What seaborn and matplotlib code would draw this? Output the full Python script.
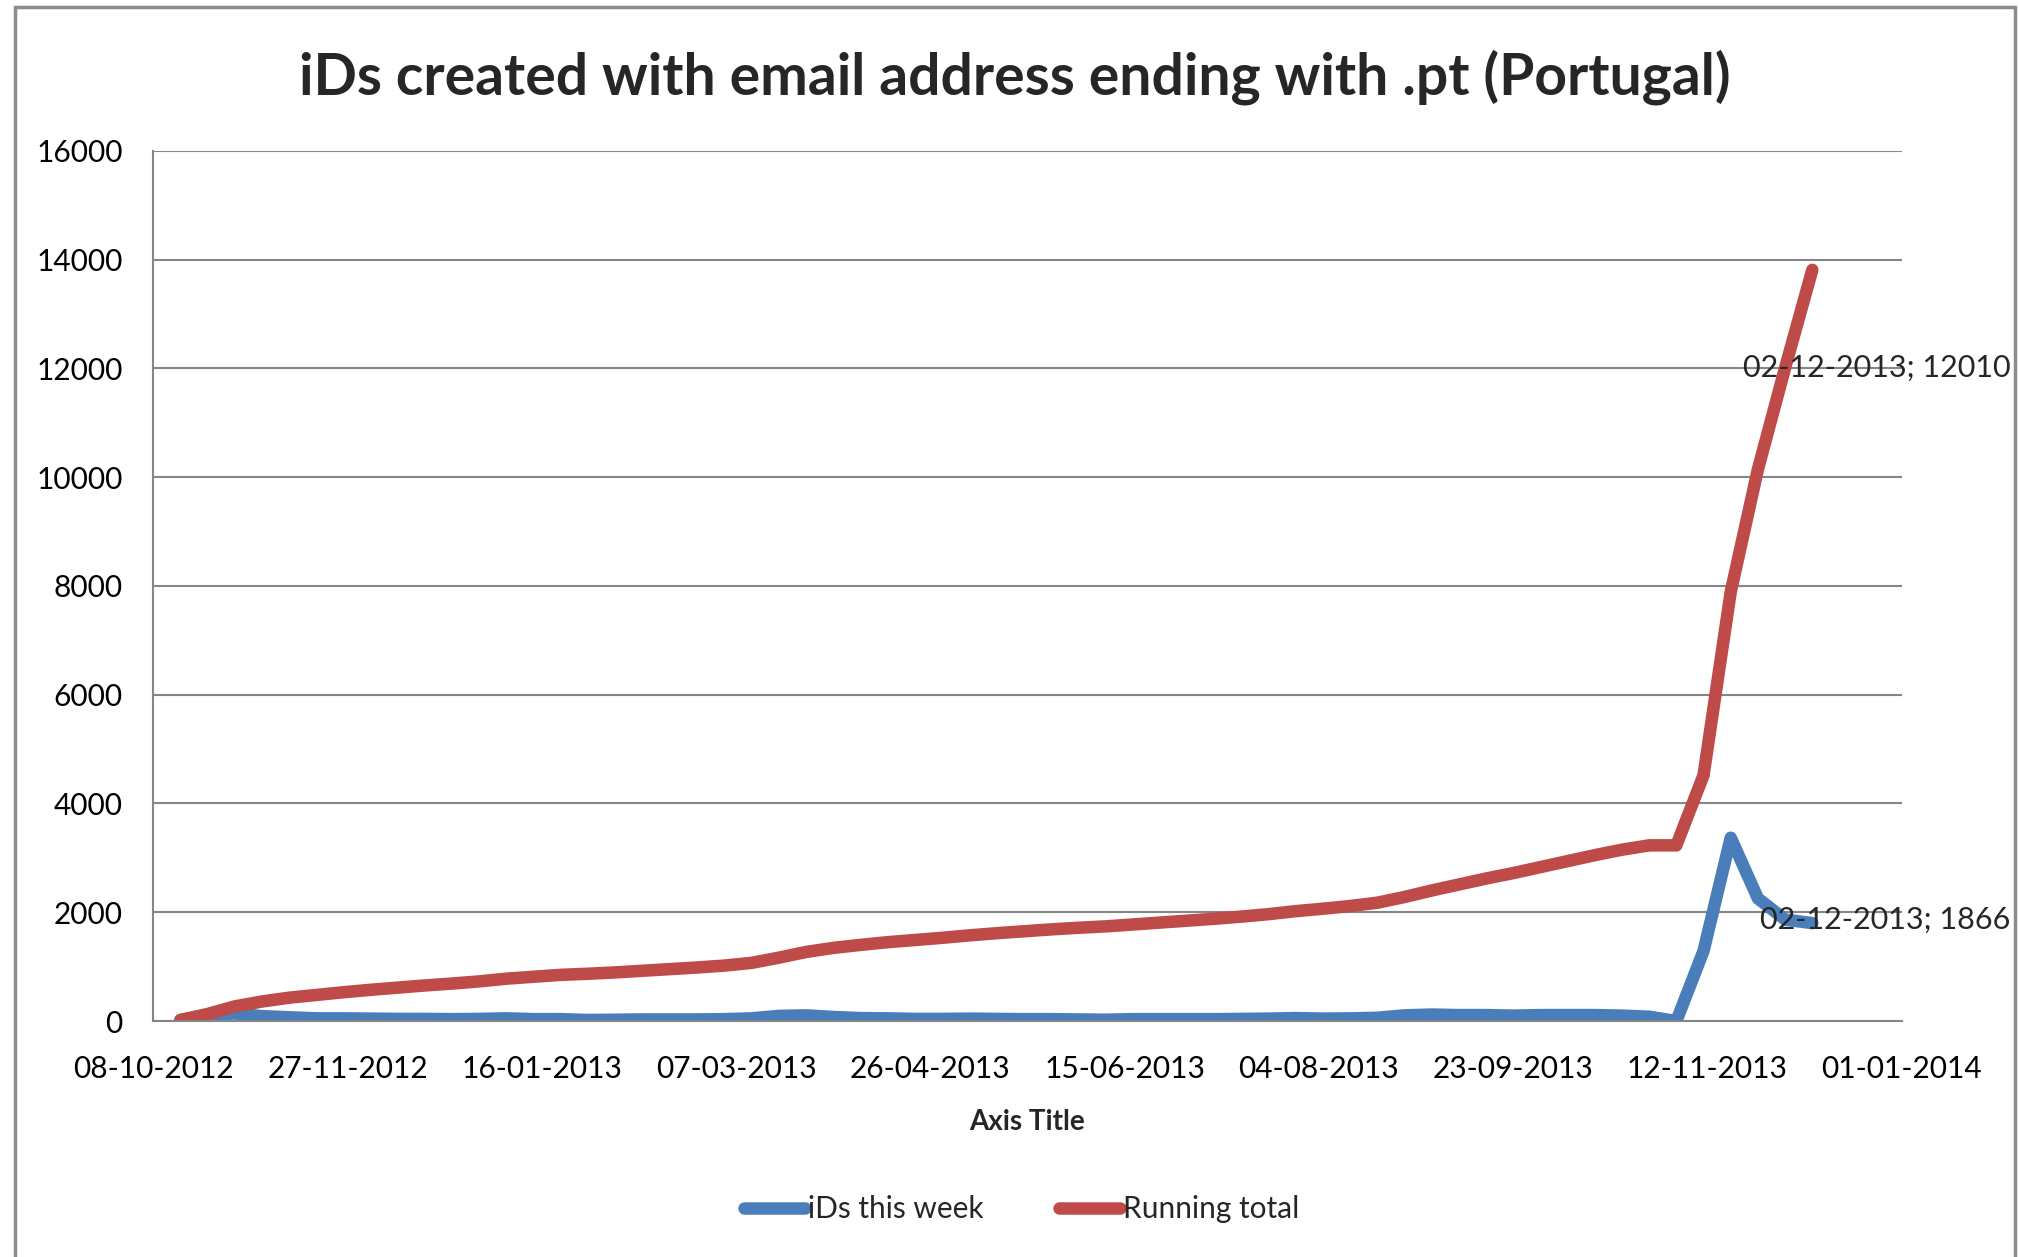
import pandas as pd
import matplotlib.pyplot as plt
import matplotlib.dates as mdates
from matplotlib.patches import Rectangle
import seaborn as sns

# Semaines (lundis) du 15-10-2012 au 09-12-2013
week_start = '2012-10-15'
n_weeks = 61

# Nouveaux iDs par semaine
ids_this_week = [20, 110, 140, 90, 70, 50, 50, 45, 40, 40,
                 35, 40, 50, 35, 35, 20, 25, 30, 30, 30,
                 35, 50, 95, 105, 75, 55, 50, 40, 40, 45,
                 40, 35, 35, 30, 25, 35, 35, 35, 35, 40,
                 45, 55, 45, 50, 60, 105, 120, 110, 110, 100,
                 110, 110, 110, 100, 80, 0, 1290, 3370, 2254, 1866,
                 1800]

# Total cumulé
running_total = [20, 130, 270, 360, 430, 480, 530, 575, 615, 655,
                 690, 730, 780, 815, 850, 870, 895, 925, 955, 985,
                 1020, 1070, 1165, 1270, 1345, 1400, 1450, 1490, 1530, 1575,
                 1615, 1650, 1685, 1715, 1740, 1775, 1810, 1845, 1880, 1920,
                 1965, 2020, 2065, 2115, 2175, 2280, 2400, 2510, 2620, 2720,
                 2830, 2940, 3050, 3150, 3230, 3230, 4520, 7890, 10144, 12010,
                 13810]

label_date = '2013-12-02'
label_total = 12010
label_week = 1866

blue = '#4A7EBB'
red = '#BE4B48'
grey = '#868686'

dates = pd.date_range(week_start, periods=n_weeks, freq='7D')
df = pd.DataFrame({'date': dates, 'week': ids_this_week, 'total': running_total})

sns.set_style('white')
plt.rcParams['font.family'] = ['Lato', 'DejaVu Sans']

fig = plt.figure(figsize=(20.19, 12.57), dpi=100)
ax = fig.add_axes([0.0759, 0.1877, 0.866, 0.6924])

sns.lineplot(data=df, x='date', y='week', ax=ax, color=blue, linewidth=9,
             label='iDs this week', solid_capstyle='round', solid_joinstyle='round')
sns.lineplot(data=df, x='date', y='total', ax=ax, color=red, linewidth=9,
             label='Running total', solid_capstyle='round', solid_joinstyle='round')

# Axes
ax.set_xlim(pd.Timestamp('2012-10-08'), pd.Timestamp('2014-01-01'))
ax.set_xticks(pd.date_range('2012-10-08', periods=10, freq='50D'))
ax.xaxis.set_major_formatter(mdates.DateFormatter('%d-%m-%Y'))
ax.set_ylim(0, 16000)
ax.set_yticks(range(0, 16001, 2000))
ax.tick_params(axis='both', length=0, labelsize=21.5, colors='black')
ax.tick_params(axis='y', pad=22)
ax.tick_params(axis='x', pad=24.5)
ax.set_xlabel('Axis Title', fontsize=20, fontweight='bold', labelpad=18.5)
ax.set_ylabel('')
ax.grid(axis='y', color=grey, linewidth=1.5)
ax.grid(axis='x', visible=False)
for s in ['top', 'right']:
    ax.spines[s].set_visible(False)
for s in ['left', 'bottom']:
    ax.spines[s].set_color(grey)
    ax.spines[s].set_linewidth(1.5)
ax.set_axisbelow(True)

# Étiquettes de données
d = pd.Timestamp(label_date)
ax.annotate('02-12-2013; ' + str(label_total), xy=(d, label_total), xytext=(-42, 0),
            textcoords='offset pixels', va='center', ha='left', fontsize=22)
ax.annotate('02-12-2013; ' + str(label_week), xy=(d, label_week), xytext=(-25, 0),
            textcoords='offset pixels', va='center', ha='left', fontsize=22)

# Titre
fig.text(0.5027, 0.9385, 'iDs created with email address ending with .pt (Portugal)',
         ha='center', va='center', fontsize=41, fontweight='bold')

# Légende
ax.legend(loc='center', bbox_to_anchor=(0.506, 0.038), bbox_transform=fig.transFigure,
          ncol=2, frameon=False, fontsize=21.5, handlelength=2.05, handletextpad=0.1,
          columnspacing=2.5)

# Cadre du graphique
fig.add_artist(Rectangle((15 / 2019, -0.02), 2000 / 2019, 1.0148, transform=fig.transFigure,
                         fill=False, edgecolor='#8c8c8c', linewidth=2.5))

plt.savefig('out.png', dpi=100)
